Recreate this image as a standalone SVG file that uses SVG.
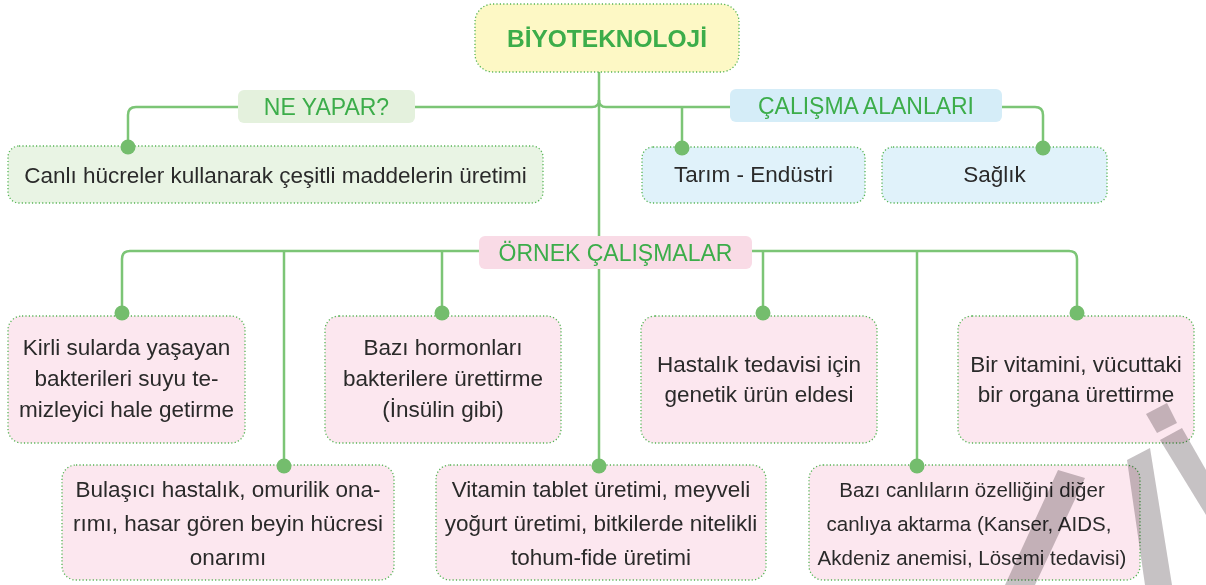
<svg xmlns="http://www.w3.org/2000/svg" width="1206" height="585" viewBox="0 0 1206 585">
<style>
  .box { stroke: #55b454; stroke-width: 1.3; stroke-dasharray: 1.2 2.2; }
  .yel { fill: #fdf8c5; }
  .grn { fill: #e9f4e4; }
  .blu { fill: #e0f2fa; }
  .pnk { fill: #fce7ef; }
  .lbl-g { fill: #e4f1dd; }
  .lbl-b { fill: #d5edf8; }
  .lbl-p { fill: #f9dbe6; }
  text { font-family: "Liberation Sans", Arial, sans-serif; text-anchor: middle; }
  .t { font-size: 22.5px; fill: #2a2a2a; }
  .s { font-size: 20.5px; }
  .lt { font-size: 23px; fill: #3cad4a; }
  .title { font-size: 24.5px; font-weight: bold; fill: #3cad4a; }
  .ln { fill: none; stroke: #7cc576; stroke-width: 2.5; }
  .dot { fill: #74bd6d; }
  .wm { fill: #c6c2c4; mix-blend-mode: multiply; }
</style>

<g id="connectors">
  <path class="ln" d="M599 72 V466"/>
  <path class="ln" d="M128 147 V115 Q128 107 136 107 H592 Q599 107 599 100"/>
  <path class="ln" d="M1043 148 V115 Q1043 107 1035 107 H606 Q599 107 599 100"/>
  <path class="ln" d="M682 107 V148"/>
  <path class="ln" d="M122 313 V259 Q122 251 130 251 H1069 Q1077 251 1077 259 V313"/>
  <path class="ln" d="M284 251 V466"/>
  <path class="ln" d="M442 251 V313"/>
  <path class="ln" d="M763 251 V313"/>
  <path class="ln" d="M917 251 V466"/>
</g>

<g id="root">
  <rect class="box yel" x="475" y="4" width="264" height="68" rx="18"/>
  <text class="title" x="607" y="47">BİYOTEKNOLOJİ</text>
</g>

<g id="ne-yapar">
  <rect class="lbl-g" x="238" y="90" width="177" height="33" rx="6"/>
  <text class="lt" x="326.5" y="115">NE YAPAR?</text>
</g>
<g id="calisma-alanlari">
  <rect class="lbl-b" x="730" y="89" width="272" height="33" rx="6"/>
  <text class="lt" x="866" y="114">ÇALIŞMA ALANLARI</text>
</g>
<g id="ornek-calismalar">
  <rect class="lbl-p" x="479" y="236" width="273" height="33" rx="6"/>
  <text class="lt" x="615.5" y="261">ÖRNEK ÇALIŞMALAR</text>
</g>

<g id="canli">
  <rect class="box grn" x="8" y="146" width="535" height="57" rx="11"/>
  <text class="t" x="275.5" y="183">Canlı hücreler kullanarak çeşitli maddelerin üretimi</text>
</g>
<g id="tarim">
  <rect class="box blu" x="642" y="147" width="223" height="56" rx="11"/>
  <text class="t" x="753.5" y="182">Tarım - Endüstri</text>
</g>
<g id="saglik">
  <rect class="box blu" x="882" y="147" width="225" height="56" rx="11"/>
  <text class="t" x="994.5" y="182">Sağlık</text>
</g>

<g id="kirli">
  <rect class="box pnk" x="8" y="316" width="237" height="127" rx="14"/>
  <text class="t" x="126.5" y="355">Kirli sularda yaşayan</text>
  <text class="t" x="126.5" y="386">bakterileri suyu te-</text>
  <text class="t" x="126.5" y="417">mizleyici hale getirme</text>
</g>
<g id="hormon">
  <rect class="box pnk" x="325" y="316" width="236" height="127" rx="14"/>
  <text class="t" x="443" y="355">Bazı hormonları</text>
  <text class="t" x="443" y="386">bakterilere ürettirme</text>
  <text class="t" x="443" y="417">(İnsülin gibi)</text>
</g>
<g id="hastalik">
  <rect class="box pnk" x="641" y="316" width="236" height="127" rx="14"/>
  <text class="t" x="759" y="372">Hastalık tedavisi için</text>
  <text class="t" x="759" y="402">genetik ürün eldesi</text>
</g>
<g id="vitamin-organ">
  <rect class="box pnk" x="958" y="316" width="236" height="127" rx="14"/>
  <text class="t" x="1076" y="372">Bir vitamini, vücuttaki</text>
  <text class="t" x="1076" y="402">bir organa ürettirme</text>
</g>

<g id="bulasici">
  <rect class="box pnk" x="62" y="465" width="332" height="115" rx="14"/>
  <text class="t" x="228" y="497">Bulaşıcı hastalık, omurilik ona-</text>
  <text class="t" x="228" y="531">rımı, hasar gören beyin hücresi</text>
  <text class="t" x="228" y="565">onarımı</text>
</g>
<g id="vitamin-tablet">
  <rect class="box pnk" x="436" y="465" width="330" height="115" rx="14"/>
  <text class="t" x="601" y="497">Vitamin tablet üretimi, meyveli</text>
  <text class="t" x="601" y="531">yoğurt üretimi, bitkilerde nitelikli</text>
  <text class="t" x="601" y="565">tohum-fide üretimi</text>
</g>
<g id="aktarma">
  <rect class="box pnk" x="809" y="465" width="331" height="115" rx="14"/>
  <text class="t s" x="972" y="497">Bazı canlıların özelliğini diğer</text>
  <text class="t s" x="969" y="531">canlıya aktarma (Kanser, AIDS,</text>
  <text class="t s" x="972" y="565">Akdeniz anemisi, Lösemi tedavisi)</text>
</g>

<g id="dots">
  <circle class="dot" cx="128" cy="147" r="7.5"/>
  <circle class="dot" cx="682" cy="148" r="7.5"/>
  <circle class="dot" cx="1043" cy="148" r="7.5"/>
  <circle class="dot" cx="122" cy="313" r="7.5"/>
  <circle class="dot" cx="442" cy="313" r="7.5"/>
  <circle class="dot" cx="763" cy="313" r="7.5"/>
  <circle class="dot" cx="1077" cy="313" r="7.5"/>
  <circle class="dot" cx="284" cy="466" r="7.5"/>
  <circle class="dot" cx="599" cy="466" r="7.5"/>
  <circle class="dot" cx="917" cy="466" r="7.5"/>
</g>

<g id="watermark">
  <polygon class="wm" points="1146,414 1167,403 1177,423 1157,433"/>
  <polygon class="wm" points="1160,440 1182,428 1206,470 1206,515"/>
  <polygon class="wm" points="1127,460 1150,448 1172,585 1145,585"/>
  <polygon class="wm" points="1058,470 1085,478 1035,585 1005,585"/>
</g>
</svg>
